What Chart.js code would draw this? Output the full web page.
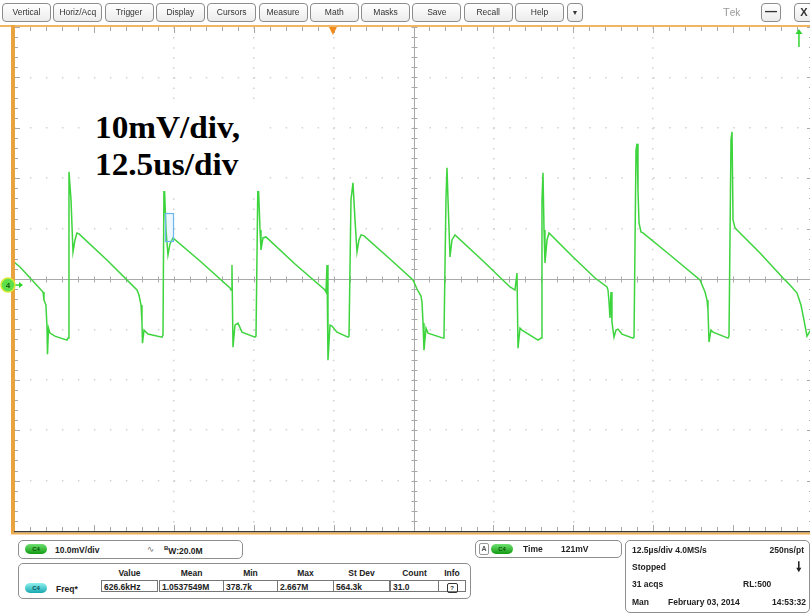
<!DOCTYPE html>
<html>
<head>
<meta charset="utf-8">
<script src="https://cdn.jsdelivr.net/npm/chart.js@4.4.1/dist/chart.umd.min.js"></script>
<style>
  body { margin:0; width:810px; height:615px; overflow:hidden; background:#fff; position:relative;
         font-family:"Liberation Sans", Arial, sans-serif; color:#222; }
  .btn { position:absolute; top:3px; height:17px; width:47px; border:1px solid #8c8c8c; border-radius:4px;
         font-size:8.5px; line-height:17px; text-align:center; color:#333; background:linear-gradient(#fff,#ececec); }
  #wrap { position:absolute; left:0; top:0; width:830px; height:545px; }
  .note { position:absolute; left:85px; top:100px; width:181px; height:91px; background:#fff; }
  .big { position:absolute; left:95px; font-family:"Liberation Serif","Times New Roman",serif; font-weight:bold;
         font-size:32px; line-height:32px; color:#000; white-space:nowrap; transform:scaleX(1.04); transform-origin:0 0; }
  .panel { position:absolute; border:1px solid #8e8e8e; border-radius:5px; background:#fff; }
  .pill { position:absolute; width:22px; height:10px; border-radius:6px; font-size:6px; line-height:10px;
          text-align:center; font-weight:bold; }
  .g { background:linear-gradient(#6fe06f,#119a11); color:#0a520a; }
  .c { background:linear-gradient(#8ff0f0,#18a8b0); color:#0a5058; }
  .t { position:absolute; font-size:8.5px; font-weight:bold; white-space:nowrap; color:#222; }
  .cell { position:absolute; top:16px; height:12px; border:1px solid #777; font-size:8.5px; font-weight:bold;
          line-height:12px; padding-left:2px; box-sizing:border-box; white-space:nowrap; }
</style>
</head>
<body>
<div id="wrap"><canvas id="scope" width="830" height="545"></canvas></div>
<div class="note"></div>
<div class="big" style="top:111px">10mV/div,</div>
<div class="big" style="top:148px">12.5us/div</div>
<div id="menu"></div>
<div class="t" style="left:723px;top:6px;font-weight:normal;color:#9a9a9a;font-size:11px">T<span style="font-size:10px">ek</span></div>
<div class="btn" style="left:761px;width:18px;font-size:12px;line-height:14px;font-weight:bold">&#8212;</div>
<div class="btn" style="left:794px;width:18px;font-size:11px;font-weight:bold">X</div>

<div class="panel" style="left:18px;top:540px;width:223px;height:17px">
  <div class="pill g" style="left:6px;top:3px">C4</div>
  <div class="t" style="left:36px;top:4px">10.0mV/div</div>
  <div class="t" style="left:128px;top:3px;font-weight:normal;color:#777;font-family:'DejaVu Sans'">&#8767;</div>
  <div class="t" style="left:145px;top:4px"><span style="font-size:6px;vertical-align:4px">B</span>W:20.0M</div>
</div>

<div class="panel" id="meas" style="left:18px;top:563px;width:451px;height:34px">
  <div class="pill c" style="left:6px;top:19px">C4</div>
  <div class="t" style="left:37px;top:20px">Freq*</div>
</div>

<div class="panel" style="left:475px;top:540px;width:145px;height:16px">
  <div class="t" style="left:3px;top:2px;width:8px;height:10px;border:1px solid #999;border-radius:2px;font-size:7px;line-height:10px;text-align:center;color:#555">A</div>
  <div class="pill g" style="left:15px;top:3px">C4</div>
  <div class="t" style="left:47px;top:3px">Time</div>
  <div class="t" style="left:85px;top:3px">121mV</div>
</div>

<div class="panel" style="left:625px;top:540px;width:183px;height:71px">
  <div class="t" style="left:6px;top:4px">12.5&micro;s/div 4.0MS/s</div>
  <div class="t" style="right:5px;top:4px">250ns/pt</div>
  <div class="t" style="left:6px;top:21px">Stopped</div>
  <div class="t" style="right:7px;top:20px;font-size:13px;line-height:12px">&#129047;</div>
  <div class="t" style="left:6px;top:38px">31 acqs</div>
  <div class="t" style="left:117px;top:38px">RL:500</div>
  <div class="t" style="left:6px;top:56px">Man</div>
  <div class="t" style="left:42px;top:56px">February 03, 2014</div>
  <div class="t" style="right:3px;top:56px">14:53:32</div>
</div>

<script>
// C4 trace: time in us (12.5 us/div), level in mV (10 mV/div, screen centre = 0)
const timeUs = [
  -62.50, -61.56, -57.96, -57.81, -57.50, -57.34, -57.26, -57.10, -56.87, -56.09,
  -54.21, -54.05, -53.90, -53.58, -53.27, -52.96, -52.65, -52.33, -47.80, -43.26,
  -42.95, -42.63, -42.48, -42.40, -42.16, -41.54, -39.35, -39.19, -39.03, -38.72,
  -38.41, -38.10, -37.63, -33.40, -28.71, -28.55, -28.40, -28.24, -27.93, -27.46,
  -26.83, -24.80, -24.64, -24.33, -24.01, -23.86, -23.55, -23.08, -18.54, -13.85,
  -13.69, -13.53, -13.38, -13.06, -12.75, -11.97, -10.25, -10.09, -9.78, -9.47,
  -9.15, -8.84, -8.53, -8.21, -7.74, -3.68, -0.08, 0.55, 1.17, 1.33,
  1.49, 1.64, 1.96, 2.27, 4.62, 4.77, 5.08, 5.24, 5.40, 5.71,
  6.02, 6.49, 10.72, 15.10, 15.88, 16.19, 16.35, 16.66, 16.97, 19.48,
  19.95, 20.10, 20.26, 20.42, 20.57, 20.89, 21.20, 24.80, 28.40, 30.27,
  30.43, 30.59, 30.74, 30.90, 31.05, 31.37, 31.68, 31.99, 32.62, 34.34,
  34.50, 34.81, 34.97, 35.12, 35.28, 35.59, 35.90, 40.13, 44.82, 45.61,
  45.92, 46.07, 46.23, 46.54, 46.86, 49.20, 49.36, 49.67, 49.83, 49.99,
  50.30, 50.61, 54.21, 57.81, 58.90, 60.00, 60.62, 61.09, 61.56, 62.03,
  62.50
];
const c4mV = [
  3.38, 2.39, -2.58, -4.17, -5.17, -9.54, -14.91, -9.74, -10.74, -11.33,
  -12.13, -11.73, 21.27, 15.71, 5.37, 7.75, 9.14, 8.95, 3.58, -2.19,
  -3.18, -5.17, -8.55, -12.72, -10.14, -10.93, -11.53, -11.13, 20.68, 9.74,
  4.77, 6.96, 8.15, 3.58, -1.79, -2.19, 2.78, -13.52, -9.14, -8.75,
  -10.54, -11.53, -11.33, 20.68, 9.74, 5.77, 8.15, 8.35, 2.98, -2.19,
  -2.58, 2.78, -16.10, -9.14, -9.34, -10.54, -11.53, -11.33, 15.71, 19.08,
  11.73, 5.37, 7.75, 8.75, 8.55, 3.98, -0.20, -1.99, -3.38, -4.57,
  -8.75, -14.11, -9.74, -10.74, -11.73, -11.33, 15.71, 22.07, 15.71, 4.37,
  7.75, 8.75, 3.78, -1.59, -2.19, 1.19, -13.72, -9.74, -10.14, -12.13,
  -11.73, 15.71, 21.07, 9.74, 3.18, 7.75, 9.14, 4.57, 0.20, -1.59,
  -2.19, -4.57, -7.75, -2.58, -8.55, -11.53, -10.14, -9.94, -10.93, -11.73,
  -11.53, 25.65, 26.84, 17.69, 11.13, 9.34, 9.14, 4.77, -0.20, -2.58,
  -4.17, -6.16, -12.52, -10.14, -10.54, -11.73, -11.33, 27.63, 29.22, 11.73,
  10.14, 9.74, 5.17, 0.20, -1.19, -2.78, -5.17, -8.15, -11.33, -10.34,
  -10.74
];
const menuLabels = ['Vertical', 'Horiz/Acq', 'Trigger', 'Display', 'Cursors', 'Measure',
                    'Math', 'Masks', 'Save', 'Recall', 'Help'];
const measHeaders = ['Value', 'Mean', 'Min', 'Max', 'St Dev', 'Count', 'Info'];
const measValues = ['626.6kHz', '1.0537549M', '378.7k', '2.667M', '564.3k', '31.0', ''];
const triggerPosUs = -12.6;
const triggerLevelUs = 60.3;
const groundMv = -1.2;

// menu bar
const menu = document.getElementById('menu');
menuLabels.forEach((m, i) => {
  const b = document.createElement('div');
  b.className = 'btn';
  b.style.left = (2 + i * 51.3) + 'px';
  b.textContent = m;
  menu.appendChild(b);
});
const dd = document.createElement('div');
dd.className = 'btn';
dd.style.left = '567px'; dd.style.width = '14px'; dd.style.fontSize = '7px';
dd.textContent = '\u25BC';
menu.appendChild(dd);

// measurement table
const meas = document.getElementById('meas');
const cellX = [82, 140, 204, 258, 314, 371, 419];
const cellW = [57, 65, 55, 57, 57, 49, 28];
measHeaders.forEach((h, i) => {
  const t = document.createElement('div');
  t.className = 't';
  t.style.left = cellX[i] + 'px'; t.style.width = cellW[i] + 'px';
  t.style.top = '4px'; t.style.textAlign = 'center';
  t.textContent = h;
  meas.appendChild(t);
  const c = document.createElement('div');
  c.className = 'cell';
  c.style.left = cellX[i] + 'px'; c.style.width = cellW[i] + 'px';
  c.textContent = measValues[i];
  if (i === 6) {
    c.style.textAlign = 'center'; c.style.paddingLeft = '0';
    c.innerHTML = '<span style="display:inline-block;width:9px;height:8px;border:1px solid #333;border-radius:2px;font-size:6px;line-height:8px">?</span>';
  }
  meas.appendChild(c);
});

const graticule = {
  id: 'graticule',
  beforeDatasetsDraw(chart) {
    const { ctx, chartArea: a, scales: { x, y } } = chart;
    const x0 = Math.round(x.getPixelForValue(0)) + 0.5;
    const y0 = Math.round(y.getPixelForValue(0)) + 0.5;
    ctx.save();
    ctx.strokeStyle = '#a9a9a9';
    ctx.lineWidth = 1;
    ctx.beginPath();
    ctx.moveTo(a.left, y0); ctx.lineTo(a.right, y0);
    ctx.moveTo(x0, a.top); ctx.lineTo(x0, a.bottom);
    for (let i = -25; i <= 25; i++) {
      const px = Math.round(x.getPixelForValue(i * 2.5)) + 0.5;
      const len = i % 5 === 0 ? 6 : 4;
      ctx.moveTo(px, y0 - 3); ctx.lineTo(px, y0 + 3);
      ctx.moveTo(px, a.top); ctx.lineTo(px, a.top + len);
      ctx.moveTo(px, a.bottom); ctx.lineTo(px, a.bottom - len);
    }
    for (let j = -25; j <= 25; j++) {
      const py = Math.round(y.getPixelForValue(j * 2)) + 0.5;
      const len = j % 5 === 0 ? 6 : 4;
      ctx.moveTo(x0 - 3, py); ctx.lineTo(x0 + 3, py);
      ctx.moveTo(a.left, py); ctx.lineTo(a.left + len, py);
      ctx.moveTo(a.right, py); ctx.lineTo(a.right - len, py);
    }
    ctx.stroke();
    ctx.restore();
  },
  afterDatasetsDraw(chart) {
    const { ctx, chartArea: a, scales: { x, y } } = chart;
    ctx.save();
    // cursor box
    ctx.strokeStyle = '#6cb8ee';
    ctx.fillStyle = 'rgba(140,200,240,0.15)';
    ctx.lineWidth = 1.2;
    const bx1 = x.getPixelForValue(-38.9), bx2 = x.getPixelForValue(-37.6);
    const by1 = y.getPixelForValue(13.1), by2 = y.getPixelForValue(7.5);
    ctx.fillRect(Math.round(bx1), Math.round(by1), Math.round(bx2 - bx1), Math.round(by2 - by1));
    ctx.strokeRect(Math.round(bx1) + 0.5, Math.round(by1) + 0.5, Math.round(bx2 - bx1), Math.round(by2 - by1));
    // frame
    ctx.fillStyle = '#f2b561';
    ctx.fillRect(0, a.top - 2, 830, 2);
    ctx.fillStyle = '#e9a43f';
    ctx.fillRect(a.left - 3, a.top - 2, 4, a.bottom - a.top + 5);
    ctx.fillStyle = '#3a3a3a';
    ctx.fillRect(a.left, a.bottom, a.right - a.left, 1.5);
    ctx.fillStyle = '#f0b05a';
    ctx.fillRect(a.left - 3, a.bottom + 1.5, 830, 2);
    // trigger position marker
    const tp = x.getPixelForValue(triggerPosUs);
    ctx.fillStyle = '#f08a1c';
    ctx.beginPath();
    ctx.moveTo(tp - 4, a.top); ctx.lineTo(tp + 4, a.top); ctx.lineTo(tp, a.top + 8);
    ctx.closePath(); ctx.fill();
    // trigger level arrow (off screen, above)
    const tl = x.getPixelForValue(triggerLevelUs);
    ctx.strokeStyle = '#2fd42f'; ctx.fillStyle = '#2fd42f'; ctx.lineWidth = 1.5;
    ctx.beginPath(); ctx.moveTo(tl, a.top + 6); ctx.lineTo(tl, a.top + 20); ctx.stroke();
    ctx.beginPath(); ctx.moveTo(tl - 3.5, a.top + 7); ctx.lineTo(tl + 3.5, a.top + 7); ctx.lineTo(tl, a.top + 2);
    ctx.closePath(); ctx.fill();
    // ground reference marker
    const gy = y.getPixelForValue(groundMv);
    ctx.strokeStyle = '#2fd42f'; ctx.lineWidth = 1.5;
    ctx.beginPath(); ctx.moveTo(14, gy); ctx.lineTo(22, gy); ctx.stroke();
    ctx.beginPath(); ctx.moveTo(23, gy); ctx.lineTo(19, gy - 3); ctx.lineTo(19, gy + 3); ctx.closePath(); ctx.fill();
    ctx.beginPath(); ctx.arc(8, gy, 7, 0, Math.PI * 2);
    ctx.fillStyle = '#5ee04a'; ctx.fill();
    ctx.strokeStyle = '#d8e83a'; ctx.lineWidth = 1.5; ctx.stroke();
    ctx.fillStyle = '#1d5a12';
    ctx.font = 'bold 8px "Liberation Sans"';
    ctx.textAlign = 'center'; ctx.textBaseline = 'middle';
    ctx.fillText('4', 8, gy + 0.5);
    ctx.restore();
  }
};

const edge = v => (v === 0 || Math.abs(v) >= 50) ? 'rgba(0,0,0,0)' : '#d2d2d2';

new Chart(document.getElementById('scope'), {
  type: 'line',
  data: {
    datasets: [{
      label: 'C4',
      data: timeUs.map((t, i) => ({ x: t, y: c4mV[i] })),
      borderColor: '#3ed43e',
      borderWidth: 1.5,
      pointRadius: 0,
      tension: 0
    }]
  },
  options: {
    responsive: false,
    animation: false,
    events: [],
    layout: { padding: { left: 14, top: 27, right: 17, bottom: 14 } },
    plugins: { legend: { display: false }, tooltip: { enabled: false } },
    scales: {
      x: {
        type: 'linear', min: -62.5, max: 62.5,
        ticks: { display: false, stepSize: 12.5 },
        grid: { drawTicks: false, lineWidth: 1.5, color: c => edge(c.tick.value) },
        border: { display: false, dash: [1.5, 8.58] }
      },
      y: {
        type: 'linear', min: -50, max: 50,
        ticks: { display: false, stepSize: 10 },
        grid: { drawTicks: false, lineWidth: 1.5, color: c => edge(c.tick.value) },
        border: { display: false, dash: [1.5, 14.48] }
      }
    }
  },
  plugins: [graticule]
});
</script>
</body>
</html>
